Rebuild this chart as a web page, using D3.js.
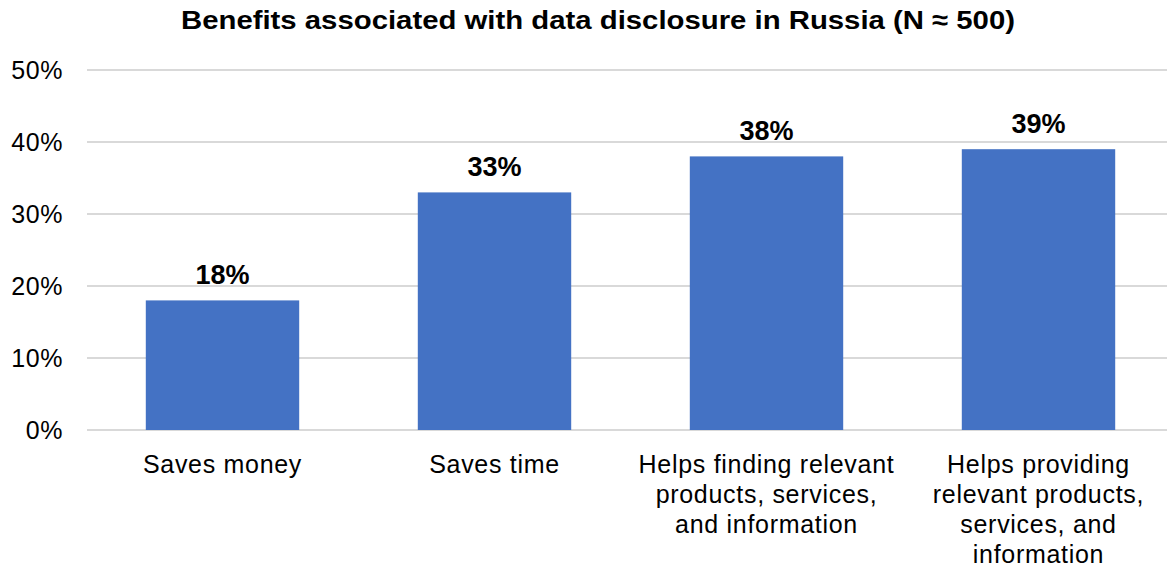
<!DOCTYPE html>
<html><head><meta charset="utf-8">
<script src="https://cdn.jsdelivr.net/npm/d3@7"></script>
<style>body{margin:0;background:#fff}svg{display:block}text{font-family:Arial,"Liberation Sans",sans-serif}</style>
</head><body>
<svg id="c" width="1167" height="567"></svg>
<script>
const categories = [
  ["Saves money"],
  ["Saves time"],
  ["Helps finding relevant", "products, services,", "and information"],
  ["Helps providing", "relevant products,", "services, and", "information"]
];
const values = [0.18, 0.33, 0.38, 0.39];
const valueLabels = ["18%", "33%", "38%", "39%"];
const yTicks = [0, 0.1, 0.2, 0.3, 0.4, 0.5];
const title = "Benefits associated with data disclosure in Russia (N \u2248 500)";

const svg = d3.select("#c");
const x = d3.scaleBand().domain(d3.range(values.length)).range([86.5, 1174.5]).paddingInner(0.436).paddingOuter(0.218);
const y = d3.scaleLinear().domain([0, 0.5]).range([430, 70]);

svg.append("text").attr("x", 598).attr("y", 29).attr("text-anchor", "middle")
  .attr("font-weight", "bold").attr("font-size", 26.5).attr("textLength", 834).attr("lengthAdjust", "spacingAndGlyphs")
  .attr("fill", "#000").text(title);

svg.append("g").selectAll("line").data(yTicks).join("line")
  .attr("x1", 87).attr("x2", 1167).attr("y1", d => y(d)).attr("y2", d => y(d))
  .attr("stroke", "#d9d9d9").attr("stroke-width", 2);

svg.append("g").selectAll("text").data(yTicks).join("text")
  .attr("x", 63).attr("y", d => y(d)).attr("dy", "0.35em").attr("text-anchor", "end")
  .attr("font-size", 25).attr("letter-spacing", 0.6).attr("fill", "#000").text(d => d3.format(".0%")(d));

svg.append("g").selectAll("rect").data(values).join("rect")
  .attr("x", (d, i) => x(i)).attr("width", x.bandwidth())
  .attr("y", d => y(d)).attr("height", d => y(0) - y(d)).attr("fill", "#4472c4");

svg.append("g").selectAll("text").data(values).join("text")
  .attr("x", (d, i) => x(i) + x.bandwidth() / 2).attr("y", d => y(d) - 16.5)
  .attr("text-anchor", "middle").attr("font-weight", "bold").attr("font-size", 27)
  .attr("fill", "#000").text((d, i) => valueLabels[i]);

const cl = svg.append("g").selectAll("text").data(categories).join("text")
  .attr("x", (d, i) => x(i) + x.bandwidth() / 2).attr("y", 472.5)
  .attr("text-anchor", "middle").attr("font-size", 25).attr("letter-spacing", 0.7).attr("fill", "#000");
cl.each(function(lines, i) {
  d3.select(this).selectAll("tspan").data(lines).join("tspan")
    .attr("x", x(i) + x.bandwidth() / 2).attr("dy", (d, j) => j === 0 ? 0 : 30).text(d => d);
});
</script>
</body></html>
